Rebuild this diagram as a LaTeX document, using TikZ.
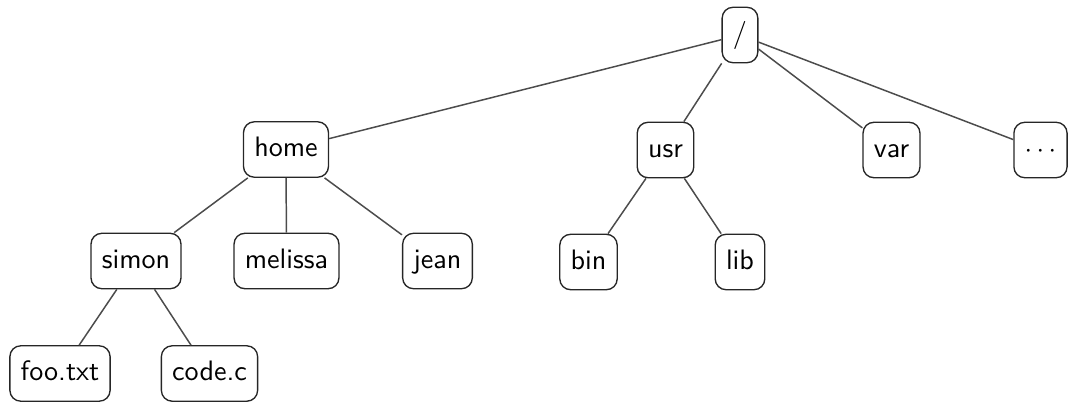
\documentclass[tikz,border=0pt]{standalone}
\usepackage{fontspec}
\begin{document}
\begin{tikzpicture}[x=0.37pt,y=-0.37pt,
  dirbox/.style={draw=black!85, line width=0.5pt, rounded corners=4pt,
    font=\fontsize{10.4}{12}\sffamily, inner xsep=4.0pt, inner ysep=5.4pt,
    text height=7.6pt, text depth=2.1pt},
  link/.style={draw=black!70, line width=0.55pt}]
\useasboundingbox (0,0) rectangle (1069,404);
\node[dirbox] (root) at (740,35) {/};
\node[dirbox] (home) at (286,149.5) {home};
\node[dirbox] (usr) at (665.5,150) {usr};
\node[dirbox] (var) at (891.5,150) {var};
\node[dirbox] (dots) at (1040.5,150) {$\cdots$};
\node[dirbox] (simon) at (136,261) {simon};
\node[dirbox] (melissa) at (286.5,261) {melissa};
\node[dirbox] (jean) at (437.5,261) {jean};
\node[dirbox] (bin) at (588.5,262) {bin};
\node[dirbox] (lib) at (740,262) {lib};
\node[dirbox] (foo) at (60,373.5) {foo.txt};
\node[dirbox] (code) at (209.5,373.5) {code.c};
\draw[link] (root) -- (home);
\draw[link] (root) -- (usr);
\draw[link] (root) -- (var);
\draw[link] (root) -- (dots);
\draw[link] (home) -- (simon);
\draw[link] (home) -- (melissa);
\draw[link] (home) -- (jean);
\draw[link] (usr) -- (bin);
\draw[link] (usr) -- (lib);
\draw[link] (simon) -- (foo);
\draw[link] (simon) -- (code);
\end{tikzpicture}
\end{document}
